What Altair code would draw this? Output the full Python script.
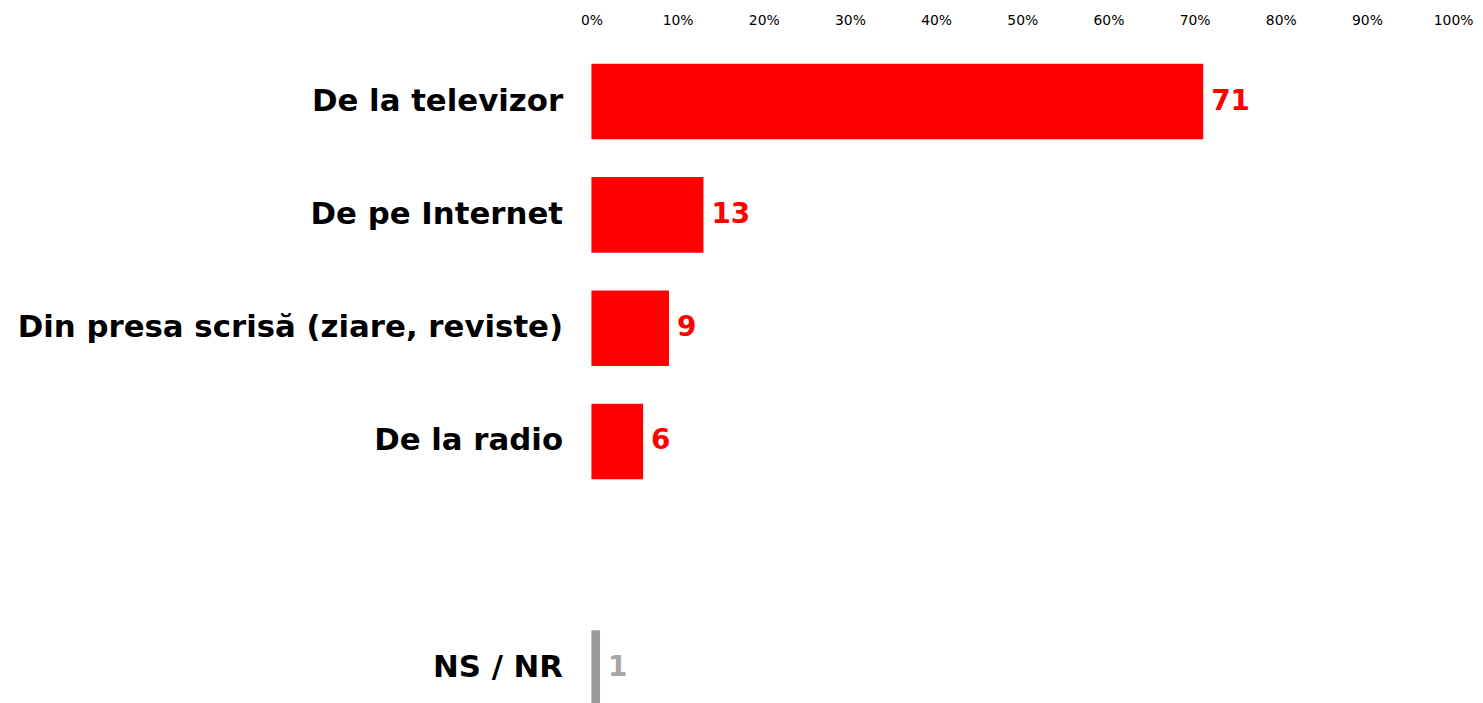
import altair as alt
import pandas as pd

categories = ["De la televizor", "De pe Internet", "Din presa scrisă (ziare, reviste)", "De la radio", "NS / NR"]
values = [71, 13, 9, 6, 1]
y_order = ["De la televizor", "De pe Internet", "Din presa scrisă (ziare, reviste)", "De la radio", " ", "NS / NR"]
ticks = list(range(0, 101, 10))

RED = "#ff0000"
GRAY = "#999999"
bar_colors = [RED, RED, RED, RED, GRAY]
label_colors = [RED, RED, RED, RED, "#a6a6a6"]

df = pd.DataFrame({"cat": categories, "val": values})

FONT = "DejaVu Sans"

y_enc = alt.Y(
    "cat:N",
    sort=y_order,
    scale=alt.Scale(domain=y_order, range=[0, 684], paddingInner=0.333, paddingOuter=0.1665),
    axis=alt.Axis(
        title=None, ticks=False, domain=False, grid=False,
        labelFont=FONT, labelFontSize=31, labelFontWeight="bold", labelColor="#000000",
        labelPadding=29, labelLimit=800,
    ),
)

x_enc = alt.X(
    "val:Q",
    scale=alt.Scale(domain=[0, 100], nice=False),
    axis=alt.Axis(
        orient="top", title=None, ticks=False, domain=False, grid=False,
        values=ticks, labelExpr="datum.value + '%'",
        labelFont=FONT, labelFontSize=14, labelColor="#000000", labelPadding=18,
        labelFlush=False,
    ),
)

bars = alt.Chart(df).mark_bar().encode(
    x=x_enc,
    y=y_enc,
    color=alt.Color("cat:N", scale=alt.Scale(domain=categories, range=bar_colors), legend=None),
)

text = alt.Chart(df).mark_text(
    align="left", baseline="middle", dx=8, font=FONT, fontSize=28, fontWeight="bold"
).encode(
    x="val:Q",
    y=alt.Y("cat:N", sort=y_order),
    text="val:Q",
    color=alt.Color("cat:N", scale=alt.Scale(domain=categories, range=label_colors), legend=None),
)

chart = alt.layer(bars, text).resolve_scale(color="independent").properties(
    width=867,
    height=660,
    autosize=alt.AutoSizeParams(type="none"),
    padding={"left": 587, "top": 35, "right": 22, "bottom": 0},
    background="white",
).configure_view(stroke=None, strokeWidth=0)

chart.save("out.html", embed_options={"renderer": "svg", "actions": False})
